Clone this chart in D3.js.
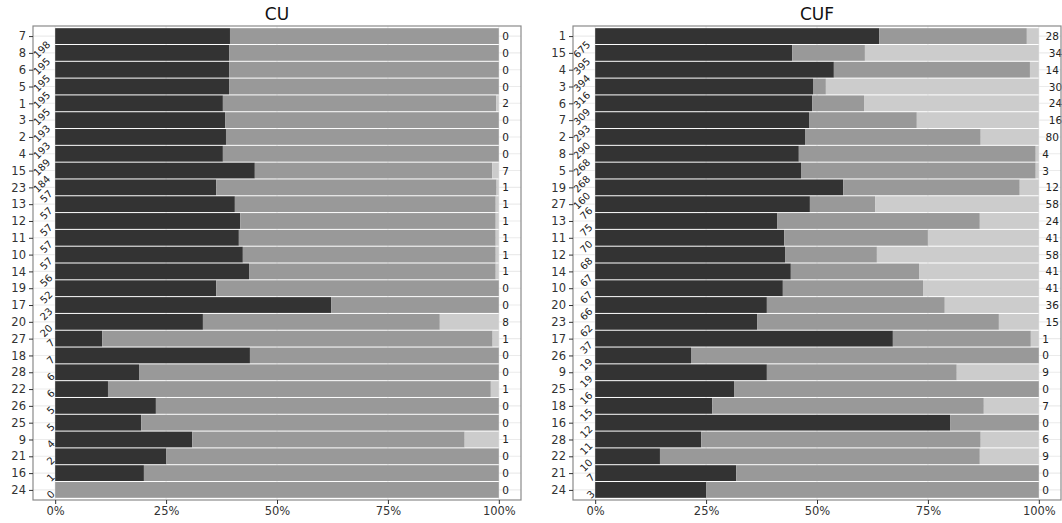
<!DOCTYPE html>
<html>
<head>
<meta charset="utf-8">
<script src="https://cdn.jsdelivr.net/npm/d3@7"></script>
<style>
  body { margin: 0; background: #fff; }
  svg { font-family: "DejaVu Sans", sans-serif; }
</style>
</head>
<body>
<script>
// CU panel: rows top to bottom, share of each class (%), totals and side counts
const cuRows = ["7", "8", "6", "5", "1", "3", "2", "4", "15", "23", "13", "12", "11", "10",
  "14", "19", "17", "20", "27", "18", "28", "22", "26", "25", "9", "21", "16", "24"];
const cuDark = [39.4, 39.2, 39.2, 39.2, 37.8, 38.3, 38.5, 37.8, 45.0, 36.3, 40.5, 41.7, 41.4, 42.3,
  43.7, 36.3, 62.2, 33.3, 10.6, 43.9, 18.9, 11.9, 22.7, 19.4, 30.9, 25.0, 20.0, 0];
const cuMid = [60.6, 60.8, 60.8, 60.8, 61.6, 61.7, 61.5, 62.2, 53.5, 63.2, 58.8, 57.6, 57.9, 57.0,
  55.6, 63.7, 37.8, 53.4, 88.0, 56.1, 81.1, 86.3, 77.3, 80.6, 61.4, 75.0, 80.0, 100];
const cuLight = [0, 0, 0, 0, 0.6, 0, 0, 0, 1.5, 0.5, 0.7, 0.7, 0.7, 0.7,
  0.7, 0, 0, 13.3, 1.4, 0, 0, 1.8, 0, 0, 7.7, 0, 0, 0];
const cuTotals = [198, 195, 195, 195, 195, 193, 193, 189, 184, 57, 57, 57, 57, 57,
  56, 52, 23, 20, 7, 7, 6, 6, 5, 5, 4, 2, 1, 0];
const cuSide = [0, 0, 0, 0, 2, 0, 0, 0, 7, 1, 1, 1, 1, 1,
  1, 0, 0, 8, 1, 0, 0, 1, 0, 0, 1, 0, 0, 0];

// CUF panel
const cufRows = ["1", "15", "4", "3", "6", "7", "2", "8", "5", "19", "27", "13", "11", "12",
  "14", "10", "20", "23", "17", "26", "9", "25", "18", "16", "28", "22", "21", "24"];
const cufDark = [64.0, 44.4, 53.8, 49.1, 48.9, 48.2, 47.3, 45.9, 46.4, 55.9, 48.4, 41.0, 42.6, 42.8,
  44.1, 42.3, 38.7, 36.5, 67.1, 21.6, 38.7, 31.3, 26.4, 80.0, 23.9, 14.6, 31.8, 25.0];
const cufMid = [33.3, 16.4, 44.2, 2.9, 11.7, 24.3, 39.6, 53.4, 52.9, 39.8, 14.7, 45.7, 32.4, 20.7,
  28.9, 31.6, 40.1, 54.5, 31.1, 78.4, 42.8, 68.7, 61.2, 20.0, 63.0, 72.1, 68.2, 75.0];
const cufLight = [2.7, 39.2, 2.0, 48.0, 39.4, 27.5, 13.1, 0.7, 0.7, 4.3, 36.9, 13.3, 25.0, 36.5,
  27.0, 26.1, 21.2, 9.0, 1.8, 0, 18.5, 0, 12.4, 0, 13.1, 13.3, 0, 0];
const cufTotals = [675, 395, 394, 316, 309, 293, 290, 268, 268, 160, 76, 75, 70, 68,
  67, 67, 66, 62, 37, 19, 19, 16, 15, 12, 11, 10, 7, 3];
const cufSide = [28, 342, 14, 301, 246, 163, 80, 4, 3, 12, 58, 24, 41, 58,
  41, 41, 36, 15, 1, 0, 9, 0, 7, 0, 6, 9, 0, 0];

const xTicks = [0, 0.25, 0.5, 0.75, 1];
const classes = ["dark", "mid", "light"];
const colors = { dark: "#333333", mid: "#999999", light: "#cccccc" };

const W = 1062, H = 523;
const panelTop = 26, panelBottom = 500;

const svg = d3.select("body").append("svg")
  .attr("width", W)
  .attr("height", H);

function drawPanel(title, rows, dark, mid, light, totals, side, left, right) {
  const g = svg.append("g");
  const pad = (right - left) * 0.05 / 1.1;

  const x = d3.scaleLinear().domain([0, 1]).range([left + pad, right - pad]);
  const y = d3.scalePoint().domain(rows).range([panelTop, panelBottom]).padding(0.6);
  const barH = y.step() * 0.94;

  g.append("rect")
    .attr("x", left).attr("y", panelTop)
    .attr("width", right - left).attr("height", panelBottom - panelTop)
    .attr("fill", "#fff");

  // grid
  g.selectAll(".hgrid").data(rows).join("line")
    .attr("x1", left).attr("x2", right)
    .attr("y1", (d) => y(d)).attr("y2", (d) => y(d))
    .attr("stroke", "#ebebeb").attr("stroke-width", 1.1);
  g.selectAll(".vgrid").data(xTicks).join("line")
    .attr("x1", (d) => x(d)).attr("x2", (d) => x(d))
    .attr("y1", panelTop).attr("y2", panelBottom)
    .attr("stroke", "#ebebeb").attr("stroke-width", 1.1);

  const table = rows.map((r, i) => ({
    row: r, dark: dark[i] / 100, mid: mid[i] / 100, light: light[i] / 100,
  }));
  const series = d3.stack().keys(classes)(table);

  g.selectAll(".layer").data(series).join("g")
    .attr("fill", (s) => colors[s.key])
    .selectAll("rect").data((s) => s).join("rect")
    .attr("x", (d) => x(d[0]))
    .attr("y", (d) => y(d.data.row) - barH / 2)
    .attr("width", (d) => x(d[1]) - x(d[0]))
    .attr("height", barH);

  // totals, rotated at the left of the bars
  g.selectAll(".total").data(rows).join("text")
    .attr("transform", (d) => `translate(${x(0)},${y(d)}) rotate(-45)`)
    .attr("text-anchor", "end")
    .attr("dominant-baseline", "central")
    .attr("font-size", 10)
    .attr("fill", "#222")
    .text((d, i) => totals[i])
    .attr("x", function () { return -this.getComputedTextLength() / 2; });

  // counts at the right of the bars
  g.selectAll(".side").data(rows).join("text")
    .attr("y", (d) => y(d))
    .attr("dominant-baseline", "central")
    .attr("font-size", 10.5)
    .attr("fill", "#222")
    .text((d, i) => side[i])
    .attr("x", function () { return x(1) + this.getComputedTextLength() / 2; });

  g.append("rect")
    .attr("x", left).attr("y", panelTop)
    .attr("width", right - left).attr("height", panelBottom - panelTop)
    .attr("fill", "none").attr("stroke", "#8a8a8a").attr("stroke-width", 1.2);

  const yAxis = g.append("g")
    .attr("transform", `translate(${left},0)`)
    .call(d3.axisLeft(y).tickSize(4).tickPadding(3));
  yAxis.select(".domain").remove();
  yAxis.selectAll("line").attr("stroke", "#333");
  yAxis.selectAll("text").attr("font-size", 11.5).attr("fill", "#333")
    .attr("font-family", "DejaVu Sans");

  const xAxis = g.append("g")
    .attr("transform", `translate(0,${panelBottom})`)
    .call(d3.axisBottom(x).tickValues(xTicks).tickFormat(d3.format(".0%")).tickSize(4).tickPadding(3));
  xAxis.select(".domain").remove();
  xAxis.selectAll("line").attr("stroke", "#333");
  xAxis.selectAll("text").attr("font-size", 11.5).attr("fill", "#333")
    .attr("font-family", "DejaVu Sans");

  g.append("text")
    .attr("x", (left + right) / 2)
    .attr("y", 20)
    .attr("text-anchor", "middle")
    .attr("font-size", 17)
    .attr("fill", "#111")
    .text(title);
}

drawPanel("CU", cuRows, cuDark, cuMid, cuLight, cuTotals, cuSide, 33, 521);
drawPanel("CUF", cufRows, cufDark, cufMid, cufLight, cufTotals, cufSide, 573, 1061);
</script>
</body>
</html>
